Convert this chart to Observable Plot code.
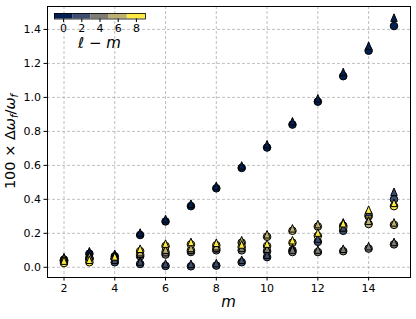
<!DOCTYPE html>
<html>
<head>
<meta charset="utf-8">
<script src="https://cdn.jsdelivr.net/npm/d3@7"></script>
<script src="https://cdn.jsdelivr.net/npm/@observablehq/plot@0.6"></script>
<style>
  body { margin: 0; background: white; }
  #wrap { position: relative; width: 416px; height: 319px; }
  #cbar { position: absolute; left: 44px; top: 0px; }
</style>
</head>
<body>
<div id="wrap"><div id="main"></div><div id="cbar"></div></div>
<script>
// ---- data ----
const ms = [2, 3, 4, 5, 6, 7, 8, 9, 10, 11, 12, 13, 14, 15];
const lmValues = [0, 2, 4, 6, 8];
const xTicks = [2, 4, 6, 8, 10, 12, 14];
const yTicks = [0.0, 0.2, 0.4, 0.6, 0.8, 1.0, 1.2, 1.4];
const cbarTicks = [0, 2, 4, 6, 8];

// circles, per ℓ−m
const circ0 = [0.045, 0.08, 0.065, 0.19, 0.27, 0.36, 0.465, 0.585, 0.705, 0.84, 0.975, 1.125, 1.275, 1.42];
const circ2 = [0.035, 0.05, 0.03, 0.02, 0.008, 0.006, 0.01, 0.03, 0.06, 0.10, 0.15, 0.215, 0.30, 0.40];
const circ4 = [0.04, 0.055, 0.05, 0.065, 0.075, 0.09, 0.10, 0.10, 0.095, 0.09, 0.09, 0.095, 0.11, 0.135];
const circ6 = [0.04, 0.05, 0.05, 0.075, 0.09, 0.10, 0.11, 0.145, 0.18, 0.215, 0.24, 0.245, 0.255, 0.25];
const circ8 = [0.025, 0.03, 0.05, 0.095, 0.125, 0.135, 0.13, 0.12, 0.125, 0.145, 0.185, 0.235, 0.31, 0.36];
// triangles, per ℓ−m
const tri0 = [0.045, 0.08, 0.065, 0.19, 0.27, 0.36, 0.465, 0.585, 0.71, 0.845, 0.98, 1.135, 1.29, 1.455];
const tri2 = [0.035, 0.05, 0.03, 0.02, 0.008, 0.006, 0.01, 0.03, 0.06, 0.10, 0.155, 0.22, 0.31, 0.43];
const tri4 = [0.04, 0.055, 0.05, 0.065, 0.075, 0.09, 0.10, 0.10, 0.095, 0.09, 0.09, 0.095, 0.11, 0.135];
const tri6 = [0.04, 0.05, 0.05, 0.075, 0.09, 0.10, 0.11, 0.145, 0.18, 0.215, 0.24, 0.25, 0.26, 0.25];
const tri8 = [0.025, 0.03, 0.05, 0.095, 0.125, 0.135, 0.13, 0.12, 0.125, 0.145, 0.19, 0.245, 0.325, 0.365];

const circSeries = [circ0, circ2, circ4, circ6, circ8];
const triSeries = [tri0, tri2, tri4, tri6, tri8];

function rowsOf(series) {
  const out = [];
  series.forEach((vals, i) => vals.forEach((v, j) => out.push({m: ms[j], v, lm: lmValues[i]})));
  return out;
}
const circles = rowsOf(circSeries);
const tris = rowsOf(triSeries);

const colors = lmValues.map((d, i) => d3.interpolateCividis(i / (lmValues.length - 1)));
const colorScale = {type: "ordinal", domain: lmValues, range: colors};

// tall triangle symbol
const cap = {
  draw(ctx, size) {
    const r = Math.sqrt(size / Math.PI);
    ctx.moveTo(0, -1.65 * r);
    ctx.lineTo(0.85 * r, 0.35 * r);
    ctx.lineTo(-0.85 * r, 0.35 * r);
    ctx.closePath();
  }
};

const font = "DejaVu Sans, sans-serif";
const L = 47, R = 6, T = 6, B = 42, W = 416, H = 319;

const main = Plot.plot({
  width: W, height: H,
  marginLeft: L, marginRight: R, marginTop: T, marginBottom: B,
  style: {fontFamily: font, fontSize: "11px", background: "white", color: "black", overflow: "visible"},
  x: {domain: [1.35, 15.65], label: null},
  y: {domain: [-0.06, 1.535], label: null},
  color: colorScale,
  marks: [
    Plot.gridX(xTicks, {stroke: "#b0b0b0", strokeOpacity: 1, strokeWidth: 0.8, strokeDasharray: "3,2"}),
    Plot.gridY(yTicks, {stroke: "#b0b0b0", strokeOpacity: 1, strokeWidth: 0.8, strokeDasharray: "3,2"}),
    Plot.axisX({ticks: xTicks, tickSize: 3.5, tickPadding: 3, tickFormat: d => String(d), label: null, fontSize: 11}),
    Plot.axisY({ticks: yTicks, tickSize: 3.5, tickPadding: 3, tickFormat: d3.format(".1f"), label: null, fontSize: 11}),
    Plot.dot(circles, {x: "m", y: "v", fill: "lm", stroke: "black", strokeWidth: 1, r: 3.8, symbol: "circle"}),
    Plot.dot(tris, {x: "m", y: "v", fill: "lm", stroke: "black", strokeWidth: 1, r: 3.8, symbol: cap}),
    Plot.frame({stroke: "black", strokeWidth: 1})
  ]
});
document.getElementById("main").appendChild(main);

const svg = d3.select(main);
// x label
svg.append("text")
  .attr("x", (L + W - R) / 2).attr("y", 307)
  .attr("text-anchor", "middle")
  .attr("font-family", font).attr("font-size", 15).attr("font-style", "italic")
  .attr("fill", "black")
  .text("m");
// y label
const yl = svg.append("text")
  .attr("transform", `translate(15,${(T + H - B) / 2}) rotate(-90)`)
  .attr("text-anchor", "middle")
  .attr("font-family", font).attr("font-size", 14.5).attr("fill", "black");
yl.append("tspan").text("100 × Δ");
yl.append("tspan").attr("font-style", "italic").text("ω");
yl.append("tspan").attr("font-style", "italic").attr("font-size", 10).attr("dy", 3).text("f");
yl.append("tspan").attr("dy", -3).text("/");
yl.append("tspan").attr("font-style", "italic").text("ω");
yl.append("tspan").attr("font-style", "italic").attr("font-size", 10).attr("dy", 3).text("f");

// colorbar
const bins = lmValues.map(d => ({lm: d, x1: d - 1, x2: d + 1}));
const cb = Plot.plot({
  width: 111, height: 50,
  marginLeft: 10, marginRight: 10, marginTop: 13, marginBottom: 31.5,
  style: {fontFamily: font, fontSize: "11px", background: "transparent", color: "black", overflow: "visible"},
  x: {domain: [-1, 9], label: null},
  color: colorScale,
  marks: [
    Plot.rectX(bins, {x1: "x1", x2: "x2", fill: "lm"}),
    Plot.frame({stroke: "black", strokeWidth: 0.8}),
    Plot.axisX({ticks: cbarTicks, tickSize: 3.5, tickPadding: 2, tickFormat: d => String(d), label: null, fontSize: 11})
  ]
});
document.getElementById("cbar").appendChild(cb);
const cl = d3.select(cb).append("text")
  .attr("x", 55.5).attr("y", 48)
  .attr("text-anchor", "middle")
  .attr("font-family", font).attr("font-size", 15).attr("fill", "black");
cl.append("tspan").attr("font-style", "italic").text("ℓ");
cl.append("tspan").text(" − ");
cl.append("tspan").attr("font-style", "italic").text("m");
</script>
</body>
</html>
